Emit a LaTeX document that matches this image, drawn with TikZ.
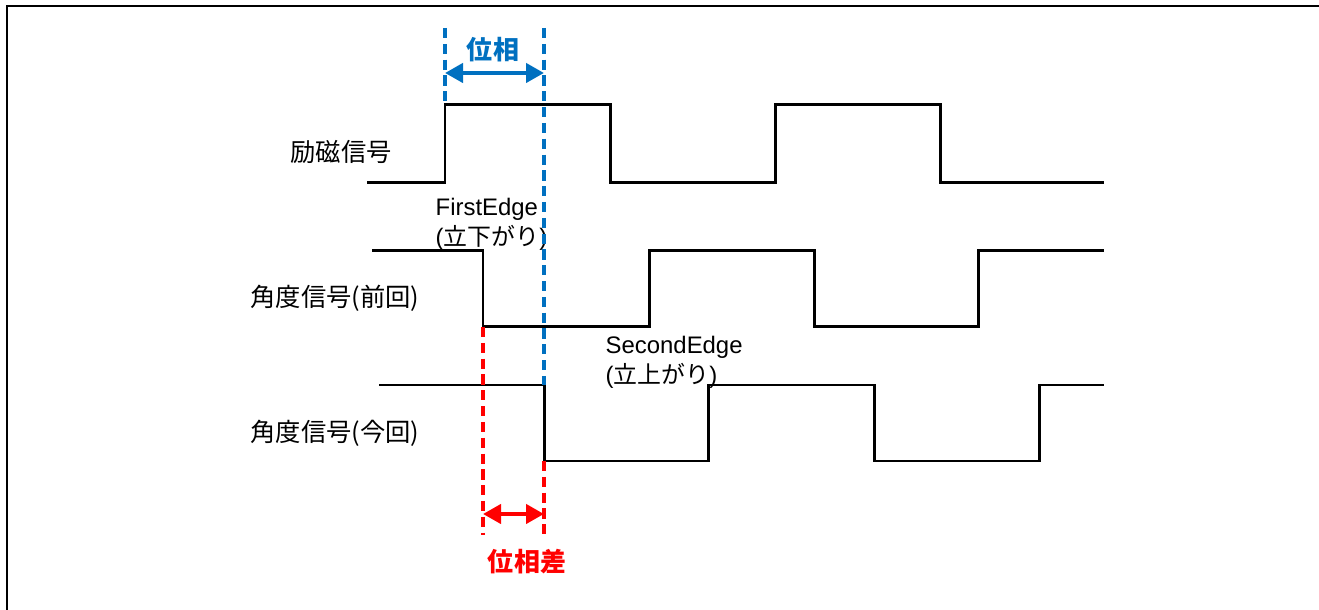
\documentclass[tikz,border=0pt]{standalone}
\usepackage{fontspec}
\setmainfont{Liberation Sans}
\newfontfamily\jpfont{Noto Sans CJK JP}
\usetikzlibrary{arrows.meta}

\begin{document}
\begin{tikzpicture}[x=1cm,y=-1cm,
    wave/.style={line width=0.85pt, line join=miter},
    guide/.style={line width=1pt, dash pattern=on 2.9pt off 1.6pt},
    span/.style={line width=1.2pt, {Triangle[length=1.8mm,width=1.9mm]}-{Triangle[length=1.8mm,width=1.9mm]}},
    sig/.style={font=\jpfont\fontsize{7.2}{8.6}\selectfont, inner sep=0pt},
    edgetxt/.style={font=\fontsize{6.8}{8.6}\selectfont, align=left, anchor=north west, inner sep=0pt},
    phase/.style={font=\jpfont\bfseries\fontsize{7.4}{8.8}\selectfont, inner sep=0pt}]
    \definecolor{ph_blue}{HTML}{0070C0}
    \definecolor{ph_red}{HTML}{FF0000}
    %\draw[help lines] (0,0) grid (13,6);
    \useasboundingbox (0,0) rectangle (13.19,6.10);
    \draw[line width=0.7pt] (0.07,6.10) -- (0.07,0.06) -- (13.19,0.06);

    % edges that the guides start from
    \coordinate (rise) at (4.45,1.05);
    \coordinate (firstedge) at (4.83,3.27);
    \coordinate (nowedge) at (5.44,3.85);
    \coordinate (nowlow) at (5.44,4.61);

    % waveforms
    \draw[wave] (3.67,1.83) -- (4.45,1.83) -- (rise) -- (6.10,1.05) -- (6.10,1.83)
        -- (7.75,1.83) -- (7.75,1.05) -- (9.40,1.05) -- (9.40,1.83) -- (11.04,1.83);
    \draw[wave] (3.72,2.51) -- (4.83,2.51) -- (firstedge) -- (6.49,3.27) -- (6.49,2.51)
        -- (8.14,2.51) -- (8.14,3.27) -- (9.78,3.27) -- (9.78,2.51) -- (11.04,2.51);
    \draw[wave] (3.79,3.85) -- (nowedge) -- (nowlow) -- (7.08,4.61) -- (7.08,3.85)
        -- (8.74,3.85) -- (8.74,4.61) -- (10.39,4.61) -- (10.39,3.85) -- (11.04,3.85);

    \node[sig] (exc) at (3.41,1.52) {励磁信号};
    \node[sig] (prev) at (3.35,2.98) {角度信号(前回)};
    \node[sig] (now) at (3.35,4.33) {角度信号(今回)};

    \node[edgetxt] (first) at (4.35,1.97) {FirstEdge\\({\jpfont 立下がり})};
    \node[edgetxt] (second) at (6.05,3.35) {SecondEdge\\({\jpfont 立上がり})};

    % phase
    \coordinate (btop1) at (4.45,0.28);
    \coordinate (btop2) at (5.44,0.28);
    \draw[guide, ph_blue] (btop1) -- (rise);
    \draw[guide, ph_blue] (btop2) -- (nowedge);
    \draw[span, ph_blue] (4.45,0.73) -- (5.44,0.73);
    \node[phase, text=ph_blue] (ph) at (4.93,0.50) {位相};

    % phase difference
    \coordinate (rbot1) at (4.83,5.35);
    \coordinate (rbot2) at (5.44,5.35);
    \draw[guide, ph_red] (firstedge) -- (rbot1);
    \draw[guide, ph_red] (nowlow) -- (rbot2);
    \draw[span, ph_red] (4.83,5.14) -- (5.44,5.14);
    \node[phase, text=ph_red] (phd) at (5.27,5.62) {位相差};
\end{tikzpicture}
\end{document}
